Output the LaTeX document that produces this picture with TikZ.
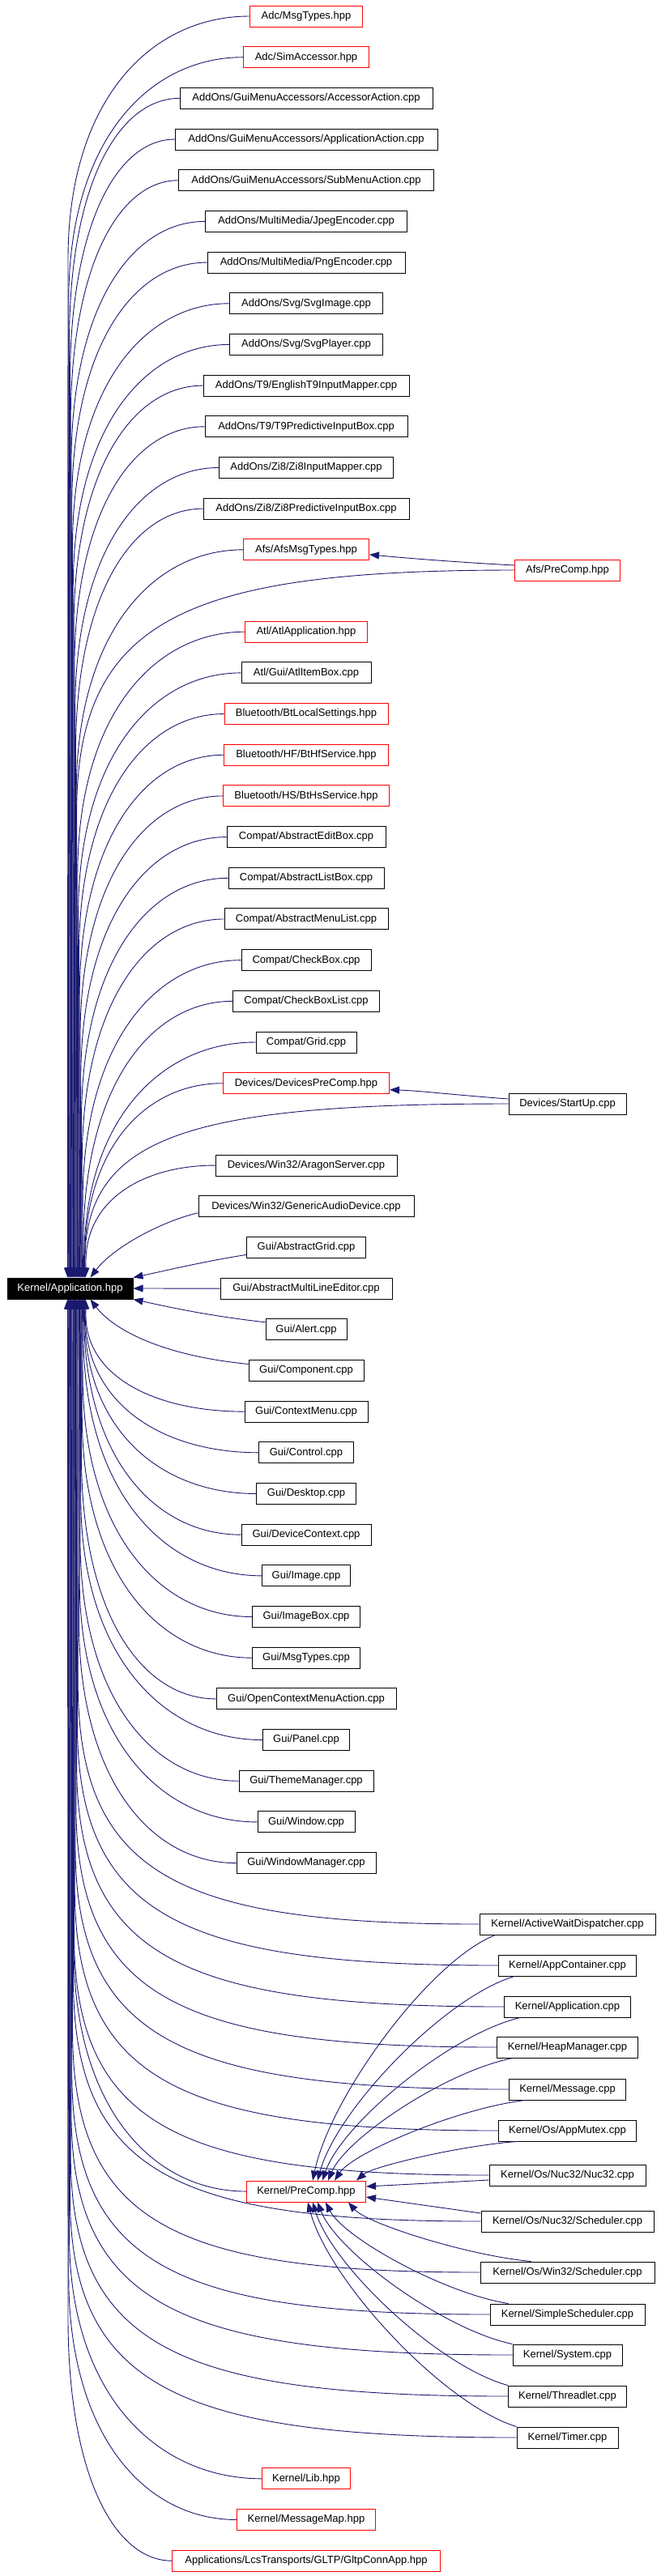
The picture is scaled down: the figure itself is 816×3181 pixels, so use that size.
\documentclass[tikz,border=0pt]{standalone}
\usepackage{fontspec}
\setmainfont{Liberation Sans}
\usetikzlibrary{calc,arrows.meta}
\definecolor{depblue}{RGB}{25,25,112}
\definecolor{truncred}{RGB}{255,0,0}
\tikzset{
  filebox/.style={draw=black, line width=1pt, fill=white, minimum height=26pt,
    inner xsep=4pt, inner ysep=0pt, font=\fontsize{13}{15}\selectfont},
  truncbox/.style={filebox, draw=truncred},
  rootbox/.style={filebox, fill=black, text=white},
  dep/.style={depblue, line width=0.9pt, -{Triangle[length=12pt,width=9pt]}},
}
% Edge into the root Kernel/Application.hpp: #1 node, #2 its west x,
% #3 its y, #4 horizontal pull, #5 vertical pull. The edge bends into
% a near-vertical run and ends on the top or bottom side of the root.
\newcommand\intoroot[5]{%
  \pgfmathsetmacro\rtS{ifthenelse(#3<1591,-1,1)}%
  \pgfmathsetmacro\rtL{min(300,abs(#3-1591)-33)}%
  \pgfmathsetmacro\rtX{106-0.0155*(abs(#3-1591)-152)}%
  \ifdim\rtS pt<0pt \def\rtA{ka.north west}\else\def\rtA{ka.south west}\fi
  \draw[dep] (#1.west)
    .. controls ({#2-#4*(#2-\rtX)}, #3) and (\rtX, {#3-\rtS*#5*\rtL})
    .. (\rtX, {#3-\rtS*\rtL}) -- ($(\rtA)+(\rtX-9,0)$);
}

\begin{document}
\begin{tikzpicture}[x=1pt, y=-1pt]
\useasboundingbox (0,0) rectangle (816,3181);
% Root of the include graph, left edge of the picture
\node[rootbox, minimum width=155pt] (ka) at (86.5,1591) {Kernel/Application.hpp};
% Middle column: one row every 50.68px, rows 14 and 27 left empty for
% the long edges of the right column. Last field: 1 = plain edge.
\foreach \nm/\lab/\r/\w/\sty/\e in {
  adcmsg/{Adc/MsgTypes.hpp}/0/139/truncbox/1,
  adcsim/{Adc/SimAccessor.hpp}/1/155/truncbox/1,
  accact/{AddOns/GuiMenuAccessors/AccessorAction.cpp}/2/312/filebox/1,
  appact/{AddOns/GuiMenuAccessors/ApplicationAction.cpp}/3/324/filebox/1,
  subact/{AddOns/GuiMenuAccessors/SubMenuAction.cpp}/4/315/filebox/1,
  jpeg/{AddOns/MultiMedia/JpegEncoder.cpp}/5/249/filebox/1,
  png/{AddOns/MultiMedia/PngEncoder.cpp}/6/244/filebox/1,
  svgimg/{AddOns/Svg/SvgImage.cpp}/7/189/filebox/1,
  svgply/{AddOns/Svg/SvgPlayer.cpp}/8/189/filebox/1,
  tnmap/{AddOns/T9/EnglishT9InputMapper.cpp}/9/254/filebox/1,
  tnbox/{AddOns/T9/T9PredictiveInputBox.cpp}/10/250/filebox/1,
  zimap/{AddOns/Zi8/Zi8InputMapper.cpp}/11/215/filebox/1,
  zibox/{AddOns/Zi8/Zi8PredictiveInputBox.cpp}/12/254/filebox/1,
  afsmsg/{Afs/AfsMsgTypes.hpp}/13/155/truncbox/1,
  atlapp/{Atl/AtlApplication.hpp}/15/151/truncbox/1,
  atlbox/{Atl/Gui/AtlItemBox.cpp}/16/160/filebox/1,
  btlocal/{Bluetooth/BtLocalSettings.hpp}/17/202/truncbox/1,
  bthf/{Bluetooth/HF/BtHfService.hpp}/18/203/truncbox/1,
  bths/{Bluetooth/HS/BtHsService.hpp}/19/205/truncbox/1,
  cedit/{Compat/AbstractEditBox.cpp}/20/196/filebox/1,
  clist/{Compat/AbstractListBox.cpp}/21/192/filebox/1,
  cmenu/{Compat/AbstractMenuList.cpp}/22/202/filebox/1,
  ccheck/{Compat/CheckBox.cpp}/23/160/filebox/1,
  cchecks/{Compat/CheckBoxList.cpp}/24/181/filebox/1,
  cgrid/{Compat/Grid.cpp}/25/124/filebox/1,
  devpre/{Devices/DevicesPreComp.hpp}/26/205/truncbox/1,
  aragon/{Devices/Win32/AragonServer.cpp}/28/224/filebox/1,
  audio/{Devices/Win32/GenericAudioDevice.cpp}/29/266/filebox/0,
  ggrid/{Gui/AbstractGrid.cpp}/30/147/filebox/0,
  gmle/{Gui/AbstractMultiLineEditor.cpp}/31/212/filebox/0,
  galert/{Gui/Alert.cpp}/32/100/filebox/0,
  gcomp/{Gui/Component.cpp}/33/142/filebox/0,
  gctx/{Gui/ContextMenu.cpp}/34/152/filebox/1,
  gctrl/{Gui/Control.cpp}/35/117/filebox/1,
  gdesk/{Gui/Desktop.cpp}/36/123/filebox/1,
  gdc/{Gui/DeviceContext.cpp}/37/160/filebox/1,
  gimg/{Gui/Image.cpp}/38/109/filebox/1,
  gimgbox/{Gui/ImageBox.cpp}/39/133/filebox/1,
  gmsg/{Gui/MsgTypes.cpp}/40/133/filebox/1,
  gopen/{Gui/OpenContextMenuAction.cpp}/41/222/filebox/1,
  gpanel/{Gui/Panel.cpp}/42/107/filebox/1,
  gtheme/{Gui/ThemeManager.cpp}/43/166/filebox/1,
  gwin/{Gui/Window.cpp}/44/120/filebox/1,
  gwinmgr/{Gui/WindowManager.cpp}/45/172/filebox/1,
  kpre/{Kernel/PreComp.hpp}/53/147/truncbox/1,
  klib/{Kernel/Lib.hpp}/60/109/truncbox/1,
  kmap/{Kernel/MessageMap.hpp}/61/171/truncbox/1,
  gltp/{Applications/LcsTransports/GLTP/GltpConnApp.hpp}/62/331/truncbox/1}{
  \pgfmathsetmacro\yrow{20+50.68*\r}
  \pgfmathsetmacro\xw{378-\w/2}
  \node[\sty, minimum width=\w pt] (\nm) at (378,\yrow) {\lab};
  \ifnum\e=1 \intoroot{\nm}{\xw}{\yrow}{0.55}{0.35}\fi
}
% Rows next to the root: short edges to its corners and east side
\draw[dep] ($(audio.west)+(0,8)$) .. controls (200,1508) and (140,1540)
  .. ($(ka.north west)+(103,0)$);
\draw[dep] ($(ggrid.west)+(0,9)$) .. controls (250,1558) and (200,1570)
  .. (ka.north east);
\draw[dep] (gmle.west) -- (ka.east);
\draw[dep] ($(galert.west)+(0,-9)$) .. controls (250,1624) and (200,1612)
  .. (ka.south east);
\draw[dep] ($(gcomp.west)+(0,-8)$) .. controls (200,1674) and (140,1642)
  .. ($(ka.south west)+(103,0)$);
% Right column: files reaching the root both directly and through
% one of the precompiled headers
\foreach \nm/\lab/\yn/\w/\sty in {
  afspre/{Afs/PreComp.hpp}/704/130/truncbox,
  startup/{Devices/StartUp.cpp}/1363/145/filebox,
  kawd/{Kernel/ActiveWaitDispatcher.cpp}/2376/217/filebox,
  kcont/{Kernel/AppContainer.cpp}/2427/170/filebox,
  kapp/{Kernel/Application.cpp}/2478/156/filebox,
  kheap/{Kernel/HeapManager.cpp}/2528/174/filebox,
  kmsg/{Kernel/Message.cpp}/2580/144/filebox,
  kmutex/{Kernel/Os/AppMutex.cpp}/2631/170/filebox,
  knuc/{Kernel/Os/Nuc32/Nuc32.cpp}/2686/193/filebox,
  knucs/{Kernel/Os/Nuc32/Scheduler.cpp}/2743/213/filebox,
  kwins/{Kernel/Os/Win32/Scheduler.cpp}/2806/215/filebox,
  ksimple/{Kernel/SimpleScheduler.cpp}/2858/191/filebox,
  ksys/{Kernel/System.cpp}/2908/135/filebox,
  kthr/{Kernel/Threadlet.cpp}/2959/146/filebox,
  ktimer/{Kernel/Timer.cpp}/3010/125/filebox}{
  \pgfmathsetmacro\xw{700.5-\w/2}
  \node[\sty, minimum width=\w pt] (\nm) at (700.5,\yn) {\lab};
  \intoroot{\nm}{\xw}{\yn}{0.75}{0.2}
}
% Edges into the two small precompiled headers
\draw[dep] ($(afspre.west)+(0,-6)$) .. controls (560,694) and (500,689)
  .. ($(afsmsg.east)+(0,6)$);
\draw[dep] ($(startup.west)+(0,-6)$) .. controls (560,1352) and (520,1347)
  .. ($(devpre.east)+(0,8)$);
% Edges into Kernel/PreComp.hpp: from above onto its top side ...
\foreach \nm/\yn/\w/\sx/\ex in {kawd/2376/217/20/8, kcont/2427/170/20/14,
    kapp/2478/156/20/20, kheap/2528/174/20/27, kmsg/2580/144/20/35,
    kmutex/2631/170/23/62}{
  \pgfmathsetmacro\kdx{700.5-\w/2+\sx-377.5-\ex}
  \pgfmathsetmacro\kdy{2693-\yn-13}
  \draw[dep] ($(\nm.south west)+(\sx,0)$)
    .. controls +({-0.35*\kdx},{0.1*\kdy}) and +({0.1*\kdx},{-0.35*\kdy})
    .. ($(kpre.north)+(\ex,0)$);
}
% ... level with it onto its east side ...
\draw[dep] ($(knuc.west)+(0,6)$) -- ($(kpre.east)+(0,-6)$);
\draw[dep] ($(knucs.west)+(0,-10)$) -- ($(kpre.east)+(0,7)$);
% ... and from below onto its bottom side
\foreach \nm/\yn/\w/\sx/\ex in {kwins/2806/215/63/52, ksimple/2858/191/23/24,
    ksys/2908/135/0/14, kthr/2959/146/0/8, ktimer/3010/125/0/2}{
  \pgfmathsetmacro\kdx{700.5-\w/2+\sx-377.5-\ex}
  \pgfmathsetmacro\kdy{\yn-13-2719}
  \draw[dep] ($(\nm.north west)+(\sx,0)$)
    .. controls +({-0.35*\kdx},{-0.1*\kdy}) and +({0.1*\kdx},{0.35*\kdy})
    .. ($(kpre.south)+(\ex,0)$);
}
\end{tikzpicture}
\end{document}
